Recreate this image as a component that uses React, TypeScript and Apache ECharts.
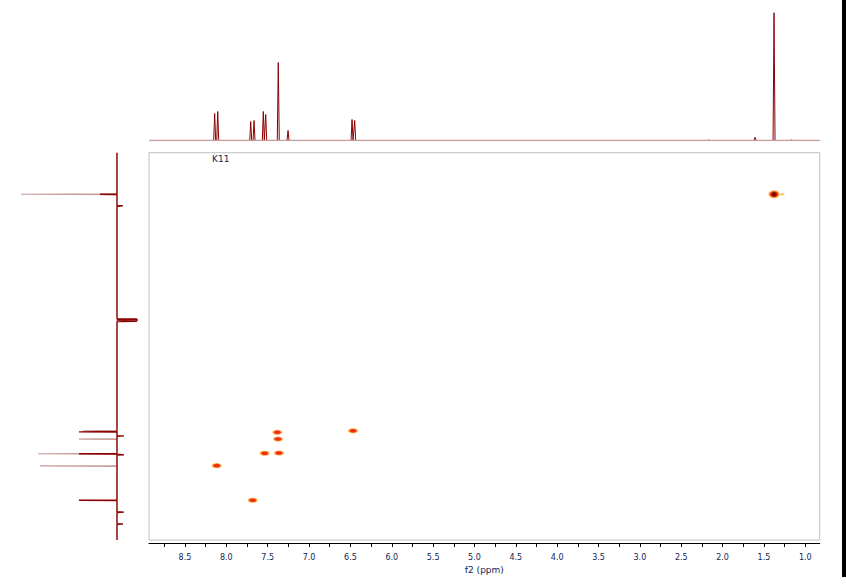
import React, { useEffect, useRef } from "react";
import * as echarts from "echarts";

// f2 (1H) axis range, inverted (high ppm on the left)
const F2_MIN = 0.826;
const F2_MAX = 8.935;
// f1 (13C) axis range, unlabeled in the reference
const F1_MIN = 10;
const F1_MAX = 160;

const xLabelValues = [8.5, 8.0, 7.5, 7.0, 6.5, 6.0, 5.5, 5.0, 4.5, 4.0, 3.5, 3.0, 2.5, 2.0, 1.5, 1.0];
const xTickValues = [
  8.75, 8.5, 8.25, 8.0, 7.75, 7.5, 7.25, 7.0, 6.75, 6.5, 6.25, 6.0, 5.75, 5.5, 5.25, 5.0,
  4.75, 4.5, 4.25, 4.0, 3.75, 3.5, 3.25, 3.0, 2.75, 2.5, 2.25, 2.0, 1.75, 1.5, 1.25, 1.0,
];

// top projection (1H): [ppm, intensity]
const protonPeaks: [number, number][] = [
  [8.141, 27], [8.104, 29], [7.705, 19], [7.665, 20], [7.553, 29], [7.524, 26],
  [7.372, 78], [7.254, 10], [6.48, 21], [6.448, 20], [2.17, 0.6], [1.607, 3.3],
  [1.378, 127.7], [1.164, 0.6],
];

// left projection (13C): [f1 ppm, intensity] (negative = drawn to the right)
const carbonPeaksDark: [number, number][] = [
  [26.1, 17], [30.6, -6], [74.4, -20], [74.8, -21], [75.3, -20], [118.1, 38],
  [119.7, -7], [126.6, 38], [127.0, -7], [144.6, 38], [149.2, -7], [153.8, -6],
];
const carbonPeaksLight: [number, number][] = [
  [26.1, 96], [117.7, 34], [120.9, 38], [126.6, 79], [131.3, 77],
];

// HSQC cross peaks: [f2 ppm, f1 ppm]
const crossPeaks: [number, number][] = [
  [7.384, 118.3], [7.375, 120.9], [7.536, 126.4], [7.363, 126.3], [8.116, 131.2],
  [7.681, 144.6], [6.468, 117.7],
];
const strongPeak: [number, number][] = [[1.378, 26.1]];
const weakPeak: [number, number][] = [[1.28, 26.1]];

const LABEL_COLOR = "#141c58";
const SPEC_COLOR = "#8b0000";
const SPEC_LIGHT = "#c79d9d";

function buildProtonLine(): [number, number][] {
  const out: [number, number][] = [[F2_MAX, 0]];
  const sorted = [...protonPeaks].sort((a, b) => b[0] - a[0]);
  const hw = 0.012;
  for (const [p, h] of sorted) {
    out.push([p + hw, 0], [p, h], [p - hw, 0]);
  }
  out.push([F2_MIN, 0]);
  return out;
}

function buildCarbonLine(peaks: [number, number][]): [number, number][] {
  const out: [number, number][] = [[0, F1_MIN]];
  const sorted = [...peaks].sort((a, b) => a[0] - b[0]);
  const hw = 0.15;
  for (const [f, h] of sorted) {
    out.push([0, f - hw], [h, f], [0, f + hw]);
  }
  out.push([0, F1_MAX]);
  return out;
}

export default function App() {
  const ref = useRef<HTMLDivElement>(null);

  useEffect(() => {
    if (!ref.current) return;
    const chart = echarts.init(ref.current, undefined, { renderer: "svg" });
    const GL = 149;
    const GW = 670.7;
    const MT = 152.7;
    const MH = 387.3;

    const lineBase = { type: "line", showSymbol: false, symbol: "none", silent: true };
    const scatterBase = { type: "scatter", xAxisIndex: 0, yAxisIndex: 0, symbol: "circle", silent: true };

    chart.setOption({
      animation: false,
      backgroundColor: "#ffffff",
      grid: [
        { left: GL, top: MT, width: GW, height: MH, show: true, borderColor: "#c0c0c0", borderWidth: 1, containLabel: false },
        { left: GL, top: 12.5, width: GW, height: 128, show: false },
        { left: 20, top: MT, width: 120, height: MH, show: false },
      ],
      xAxis: [
        {
          gridIndex: 0,
          type: "value",
          inverse: true,
          min: F2_MIN,
          max: F2_MAX,
          position: "bottom",
          offset: 3,
          name: "f2 (ppm)",
          nameLocation: "middle",
          nameGap: 16,
          nameTextStyle: { color: LABEL_COLOR, fontSize: 9, fontFamily: "DejaVu Sans" },
          axisLine: { show: true, lineStyle: { color: "#000000", width: 1 } },
          axisTick: { show: true, length: 4, customValues: xTickValues, lineStyle: { color: "#000000" } },
          axisLabel: {
            show: true,
            customValues: xLabelValues,
            formatter: (v: number) => v.toFixed(1),
            color: LABEL_COLOR,
            fontSize: 8,
            fontFamily: "DejaVu Sans",
            margin: 10,
          },
          splitLine: { show: false },
        },
        { gridIndex: 1, type: "value", inverse: true, min: F2_MIN, max: F2_MAX, show: false },
        { gridIndex: 2, type: "value", inverse: true, min: -23, max: 97, show: false },
      ],
      yAxis: [
        { gridIndex: 0, type: "value", inverse: true, min: F1_MIN, max: F1_MAX, show: false, splitLine: { show: false } },
        { gridIndex: 1, type: "value", min: 0, max: 128, show: false },
        { gridIndex: 2, type: "value", inverse: true, min: F1_MIN, max: F1_MAX, show: false },
      ],
      series: [
        {
          ...lineBase,
          xAxisIndex: 1,
          yAxisIndex: 1,
          data: buildProtonLine(),
          lineStyle: { color: SPEC_COLOR, width: 1 },
        },
        {
          ...lineBase,
          xAxisIndex: 1,
          yAxisIndex: 1,
          data: [[F2_MAX, 0], [F2_MIN, 0]],
          lineStyle: { color: SPEC_LIGHT, width: 1.4 },
        },
        {
          ...lineBase,
          xAxisIndex: 2,
          yAxisIndex: 2,
          data: buildCarbonLine(carbonPeaksLight),
          lineStyle: { color: SPEC_LIGHT, width: 1.2 },
        },
        {
          ...lineBase,
          xAxisIndex: 2,
          yAxisIndex: 2,
          data: buildCarbonLine(carbonPeaksDark),
          lineStyle: { color: SPEC_COLOR, width: 1.3 },
        },
        { ...scatterBase, data: crossPeaks, symbolSize: [10, 5], itemStyle: { color: "#ffa020", opacity: 0.85 } },
        { ...scatterBase, data: crossPeaks, symbolSize: [7, 3.5], itemStyle: { color: "#e81010" } },
        { ...scatterBase, data: weakPeak, symbolSize: [5, 2], itemStyle: { color: "#ffb020" } },
        { ...scatterBase, data: strongPeak, symbolSize: [11, 8], itemStyle: { color: "#ff9a20" } },
        { ...scatterBase, data: strongPeak, symbolSize: [8, 6], itemStyle: { color: "#c80000" } },
        { ...scatterBase, data: strongPeak, symbolSize: [4, 4], itemStyle: { color: "#6a0000" } },
      ],
      graphic: [
        {
          type: "text",
          left: 212,
          top: 154,
          style: { text: "K11", fill: LABEL_COLOR, fontSize: 9, fontFamily: "DejaVu Sans" },
          silent: true,
        },
        {
          type: "rect",
          shape: { x: 842, y: 0, width: 4, height: 577 },
          style: { fill: "#000000" },
          silent: true,
        },
      ],
    });

    return () => {
      chart.dispose();
    };
  }, []);

  return (
    <div
      ref={ref}
      style={{ position: "fixed", left: 0, top: 0, width: 846, height: 587, background: "#fff" }}
    />
  );
}
